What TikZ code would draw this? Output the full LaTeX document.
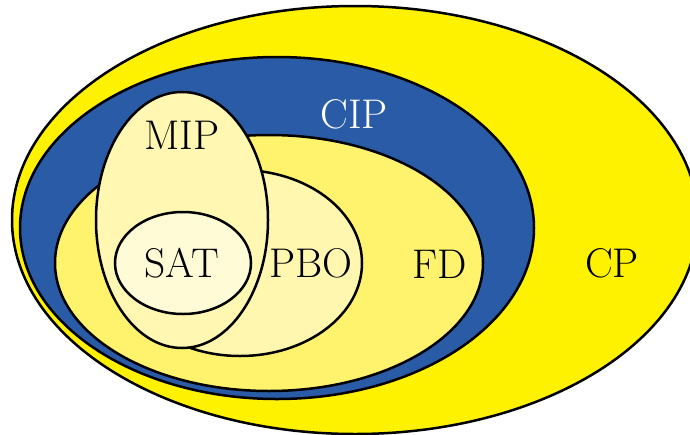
\documentclass[tikz,border=0pt]{standalone}
\usetikzlibrary{shapes.geometric}
\definecolor{cpY}{RGB}{255,242,0}
\definecolor{cipB}{RGB}{41,91,166}
\definecolor{fdY}{RGB}{255,243,110}
\definecolor{pboY}{RGB}{255,247,175}
\definecolor{mipY}{RGB}{255,247,178}
\definecolor{satY}{RGB}{255,251,215}
\begin{document}
\begin{tikzpicture}[x=1pt,y=-1pt,
  setbox/.style={ellipse,draw=black,line width=2.5pt,inner sep=0pt,outer sep=0pt},
  lbl/.style={font=\fontsize{41.5}{43}\selectfont,inner sep=0pt}]
\useasboundingbox (0,0) rectangle (690,434);
\clip (0,0) rectangle (690,434);
\node[setbox,fill=cpY,minimum width=686pt,minimum height=428pt] (cp) at (355,220) {};
\node[setbox,fill=cipB,minimum width=514pt,minimum height=342pt] (cip) at (277,228) {};
\node[setbox,fill=fdY,minimum width=428pt,minimum height=256pt] (fd) at (269,263) {};
\node[setbox,fill=pboY,minimum width=244pt,minimum height=186pt] (pbo) at (240,263) {};
\node[setbox,fill=mipY,minimum width=172pt,minimum height=256pt] (mip) at (182,220) {};
\node[setbox,fill=satY,minimum width=136pt,minimum height=102pt] (sat) at (183,263) {};
\node[lbl,text=white] (tcip) at (354,114) {CIP};
\node[lbl] (tmip) at (182,135) {MIP};
\node[lbl] (tsat) at (182,263) {SAT};
\node[lbl] (tpbo) at (311,263) {PBO};
\node[lbl] (tfd) at (440,264) {FD};
\node[lbl] (tcp) at (612,263) {CP};
\end{tikzpicture}
\end{document}
